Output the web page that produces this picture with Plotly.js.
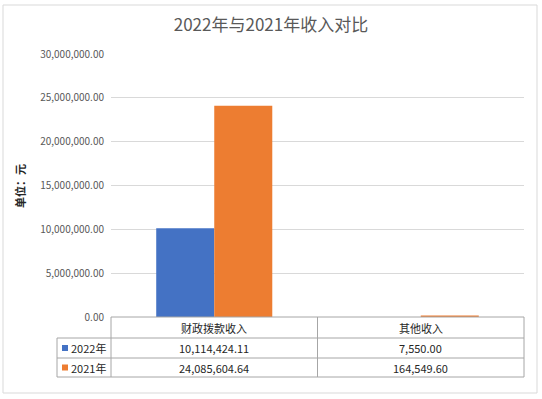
<!DOCTYPE html>
<html><head><meta charset="utf-8">
<script src="https://cdn.plot.ly/plotly-3.0.1.min.js"></script>
<style>html,body{margin:0;padding:0;background:#fff}#chart{width:542px;height:399px}</style>
</head><body><div id="chart"></div>
<script>
const categories = ['财政拨款收入', '其他收入'];
const seriesNames = ['2022年', '2021年'];
const values2022 = [10114424.11, 7550.00];
const values2021 = [24085604.64, 164549.60];
const seriesValues = [values2022, values2021];
const colors = ['#4472C4', '#ED7D31'];
const titleText = '2022年与2021年收入对比';
const yTitleText = '单位：元';

const W = 542, H = 399, L = 111, R = 18, T = 54, B = 82;
const pw = W - L - R, ph = H - T - B;
const px2x = p => (p - L) / pw;
const py2y = p => (H - B - p) / ph;
const fmt = v => v.toLocaleString('en-US', {minimumFractionDigits: 2, maximumFractionDigits: 2});
const CJK = '"Noto Sans CJK SC", "Noto Sans", sans-serif';
const gridC = '#d9d9d9', tblC = '#a6a6a6';

const traces = seriesNames.map((n, i) => ({
  type: 'bar', name: n, x: categories, y: seriesValues[i],
  marker: {color: colors[i]}, hoverinfo: 'skip'
}));

const rowY = [317, 338, 358, 377];
const colLeftPx = 57;
const shapes = [];
const annotations = [];
shapes.push({type: 'rect', xref: 'paper', yref: 'paper', x0: px2x(3), x1: px2x(537), y0: py2y(393), y1: py2y(5), line: {color: '#d9d9d9', width: 1}, layer: 'below'});
shapes.push({type: 'line', xref: 'paper', yref: 'paper', x0: 0, x1: 1, y0: py2y(rowY[0]), y1: py2y(rowY[0]), line: {color: tblC, width: 1}});
for (let r = 1; r < rowY.length; r++) {
  shapes.push({type: 'line', xref: 'paper', yref: 'paper', x0: px2x(colLeftPx), x1: 1, y0: py2y(rowY[r]), y1: py2y(rowY[r]), line: {color: tblC, width: 1}});
}
shapes.push({type: 'line', xref: 'paper', yref: 'paper', x0: px2x(colLeftPx), x1: px2x(colLeftPx), y0: py2y(rowY[1]), y1: py2y(rowY[3]), line: {color: tblC, width: 1}});
shapes.push({type: 'line', xref: 'paper', yref: 'paper', x0: 0, x1: 0, y0: py2y(rowY[0]), y1: py2y(rowY[3]), line: {color: tblC, width: 1}});
shapes.push({type: 'line', xref: 'x', yref: 'paper', x0: 0.5, x1: 0.5, y0: py2y(rowY[0]), y1: py2y(rowY[3]), line: {color: tblC, width: 1}});
shapes.push({type: 'line', xref: 'paper', yref: 'paper', x0: 1, x1: 1, y0: py2y(rowY[0]), y1: py2y(rowY[3]), line: {color: tblC, width: 1}});

categories.forEach((c, j) => {
  annotations.push({xref: 'x', yref: 'paper', x: j, y: py2y((rowY[0] + rowY[1]) / 2), text: c, showarrow: false, font: {family: CJK, size: 11, color: '#262626'}, xanchor: 'center', yanchor: 'middle'});
});
seriesNames.forEach((n, i) => {
  const yc = py2y((rowY[i + 1] + rowY[i + 2]) / 2);
  shapes.push({type: 'rect', xref: 'paper', yref: 'paper', x0: px2x(62), x1: px2x(68), y0: yc - 3 / ph, y1: yc + 3 / ph, fillcolor: colors[i], line: {width: 0}});
  annotations.push({xref: 'paper', yref: 'paper', x: px2x(68.5), y: yc, text: n, showarrow: false, font: {family: CJK, size: 11, color: '#262626'}, xanchor: 'left', yanchor: 'middle'});
  categories.forEach((c, j) => {
    annotations.push({xref: 'x', yref: 'paper', x: j, y: yc, text: fmt(seriesValues[i][j]), showarrow: false, font: {family: CJK, size: 11, color: '#262626'}, xanchor: 'center', yanchor: 'middle'});
  });
});
annotations.push({xref: 'paper', yref: 'paper', x: px2x(20), y: py2y(186), text: '<b>' + yTitleText + '</b>', textangle: -90, showarrow: false, font: {family: CJK, size: 11, color: '#262626'}, xanchor: 'center', yanchor: 'middle'});

const layout = {
  width: W, height: H,
  margin: {l: L, r: R, t: T, b: B, pad: 0},
  paper_bgcolor: '#fff', plot_bgcolor: '#fff',
  title: {text: titleText, font: {family: CJK, size: 17, color: '#595959'}, x: 0.5, xanchor: 'center', xref: 'container', y: 1 - 25 / H, yanchor: 'middle', yref: 'container'},
  showlegend: false,
  barmode: 'group', bargap: 0.438, bargroupgap: 0,
  xaxis: {type: 'category', range: [-0.5, 1.5], showticklabels: false, ticks: '', showgrid: false, zeroline: false, showline: false, fixedrange: true},
  yaxis: {range: [0, 30000000], dtick: 5000000, tick0: 0, tickformat: ',.2f', showgrid: true, gridcolor: gridC, gridwidth: 1, zeroline: false, showline: false, ticks: '', ticklabelstandoff: 6,
    tickfont: {family: CJK, size: 10, color: '#595959'}, fixedrange: true},
  shapes: shapes, annotations: annotations
};
Plotly.newPlot('chart', traces, layout, {staticPlot: true, displayModeBar: false});
</script>
</body></html>
